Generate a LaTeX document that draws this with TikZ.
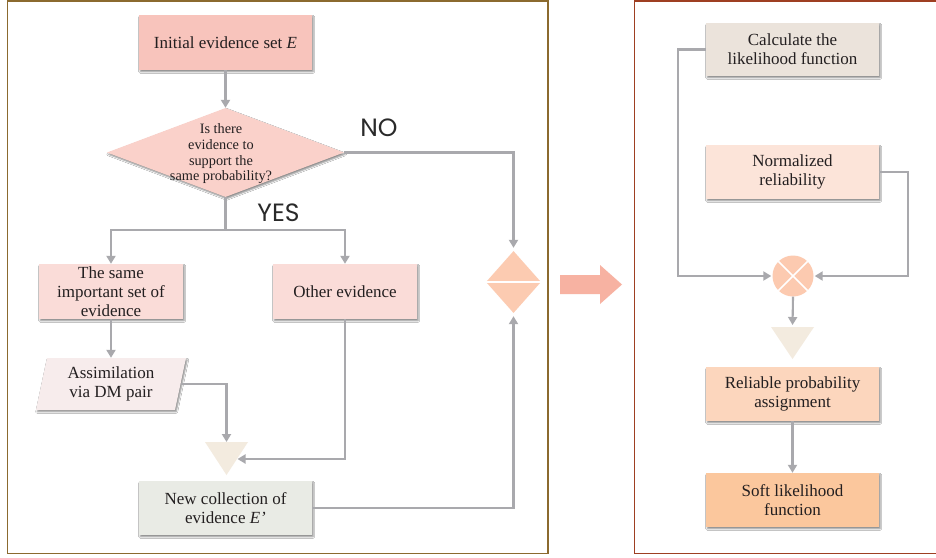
\documentclass[tikz,border=0pt]{standalone}
\usepackage{fontspec}
\setmainfont{Liberation Serif}
\newfontfamily\lblfont{Poppins}
\usetikzlibrary{shapes.geometric,arrows.meta,shadows.blur}
\definecolor{cInit}{HTML}{F8C4BC}
\definecolor{cDec}{HTML}{FAD1CA}
\definecolor{cSame}{HTML}{FADCD8}
\definecolor{cAssim}{HTML}{F7ECEC}
\definecolor{cTri}{HTML}{F3EBDF}
\definecolor{cNew}{HTML}{E9EBE5}
\definecolor{cSd}{HTML}{FCCBB1}
\definecolor{cCalc}{HTML}{EBE3DB}
\definecolor{cNorm}{HTML}{FCE4D9}
\definecolor{cMult}{HTML}{FCCAB0}
\definecolor{cRel}{HTML}{FCD6BD}
\definecolor{cSoft}{HTML}{FBC79D}
\definecolor{cBig}{HTML}{F7B2A2}
\definecolor{linegray}{HTML}{A9A9AD}
\definecolor{frameL}{HTML}{8B6A2F}
\definecolor{frameR}{HTML}{9E3F22}
\definecolor{txt}{HTML}{231F20}
\definecolor{txtlbl}{HTML}{2A2A2A}
\begin{document}
\begin{tikzpicture}[x=1pt,y=-1pt,
  shad/.style={blur shadow={shadow xshift=1.2pt, shadow yshift=-1.8pt, shadow blur radius=1.5pt, shadow blur steps=4, shadow opacity=45}},
  box/.style={rectangle, shad, minimum width=173pt, minimum height=54pt, inner sep=0pt, align=center, text=txt, font=\fontsize{17}{19}\selectfont},
  btxt/.style={align=center, text=txt, inner sep=0pt, font=\fontsize{17}{19}\selectfont},
  conn/.style={draw=linegray, line width=2.1pt, -{Triangle[length=8pt,width=9pt]}},
  lbl/.style={text=txtlbl, inner sep=0pt, font=\lblfont\fontsize{25}{25}\selectfont},
  tri/.style={fill=cTri}
]
\useasboundingbox (0,0) rectangle (936,557);
\fill[white] (0,0) rectangle (936,557);

% frames
\draw[frameL, line width=1.3pt] (7.5,1) rectangle (548,553.5);
\draw[frameR, line width=1.3pt] (634.5,1) rectangle (940,553.5);

% ---------- left panel ----------
\node[box, fill=cInit, minimum height=55pt] (init) at (225.5,42.5) {Initial evidence set \textit{E}};

\node[diamond, shad, fill=cDec, minimum width=237pt, minimum height=89pt, inner sep=0pt] (dec) at (225.5,152.5) {};
\node[align=center, text=txt, inner sep=0pt, font=\fontsize{14.3}{15.7}\selectfont] (dect) at (221,154) {Is there\\evidence to\\support the\\same probability?};

\node[box, fill=cSame, minimum width=144pt, minimum height=55pt] (same) at (111,291.5) {The same\\important set of\\evidence};
\node[box, fill=cSame, minimum width=144pt, minimum height=55pt] (other) at (345,291.5) {Other evidence};

\fill[cAssim, shad] (47,358) -- (186,358) -- (175,410) -- (36,410) -- cycle;
\node[btxt, minimum width=139pt, minimum height=52pt] (assim) at (111,384) {Assimilation\\via DM pair};

\fill[tri] (205,442) -- (248,442) -- (226.5,475) -- cycle;
\coordinate (t1top) at (226.5,442);
\coordinate (t1side) at (237.5,459);

\node[box, fill=cNew] (newc) at (225.5,508) {New collection of\\evidence \textit{E’}};

\node[diamond, fill=cSd, minimum width=55pt, minimum height=62pt, inner sep=0pt] (sd) at (513.5,282) {};
\draw[white, line width=1.5pt] (sd.west) -- (sd.east);

\node[lbl] (no) at (379,128) {NO};
\node[lbl] (yes) at (278.5,213) {YES};

\draw[conn] (init.south) -- (dec.north);
\draw[conn] (dec.south) -- ++(0,33) -| (same.north);
\draw[conn] (dec.south) -- ++(0,33) -| (other.north);
\draw[conn] (same.south) -- (assim.north);
\draw[conn] (assim.east) -| (t1top);
\draw[conn] (other.south) |- (t1side);
\draw[conn, shorten >=3pt] (dec.east) -| (sd.north);
\draw[conn, shorten >=3pt] (newc.east) -| (sd.south);

% ---------- big arrow ----------
\fill[cBig] (560,275) -- (600,275) -- (600,265) -- (622,284.5) -- (600,304) -- (600,294) -- (560,294) -- cycle;

% ---------- right panel ----------
\node[box, fill=cCalc, minimum height=53pt] (calc) at (792.5,49.5) {Calculate the\\likelihood function};
\node[box, fill=cNorm] (norm) at (792.5,172) {Normalized\\reliability};
\node[circle, fill=cMult, minimum size=41pt, inner sep=0pt] (mult) at (793,276) {};
\draw[white, line width=1.6pt] (mult.north west) -- (mult.south east) (mult.north east) -- (mult.south west);
\fill[tri] (771,327) -- (814,327) -- (792.5,359) -- cycle;
\coordinate (t2top) at (792.5,327);
\node[box, fill=cRel] (rel) at (792.5,394) {Reliable probability\\assignment};
\node[box, fill=cSoft] (soft) at (792.5,500) {Soft likelihood\\function};

\draw[conn, shorten >=1pt] (calc.west) -- ++(-28,0) |- (mult.west);
\draw[conn, shorten >=1pt] (norm.east) -- ++(29,0) |- (mult.east);
\draw[conn, shorten >=2pt] (mult.south) -- (t2top);
\draw[conn] (rel.south) -- (soft.north);
\end{tikzpicture}
\end{document}
